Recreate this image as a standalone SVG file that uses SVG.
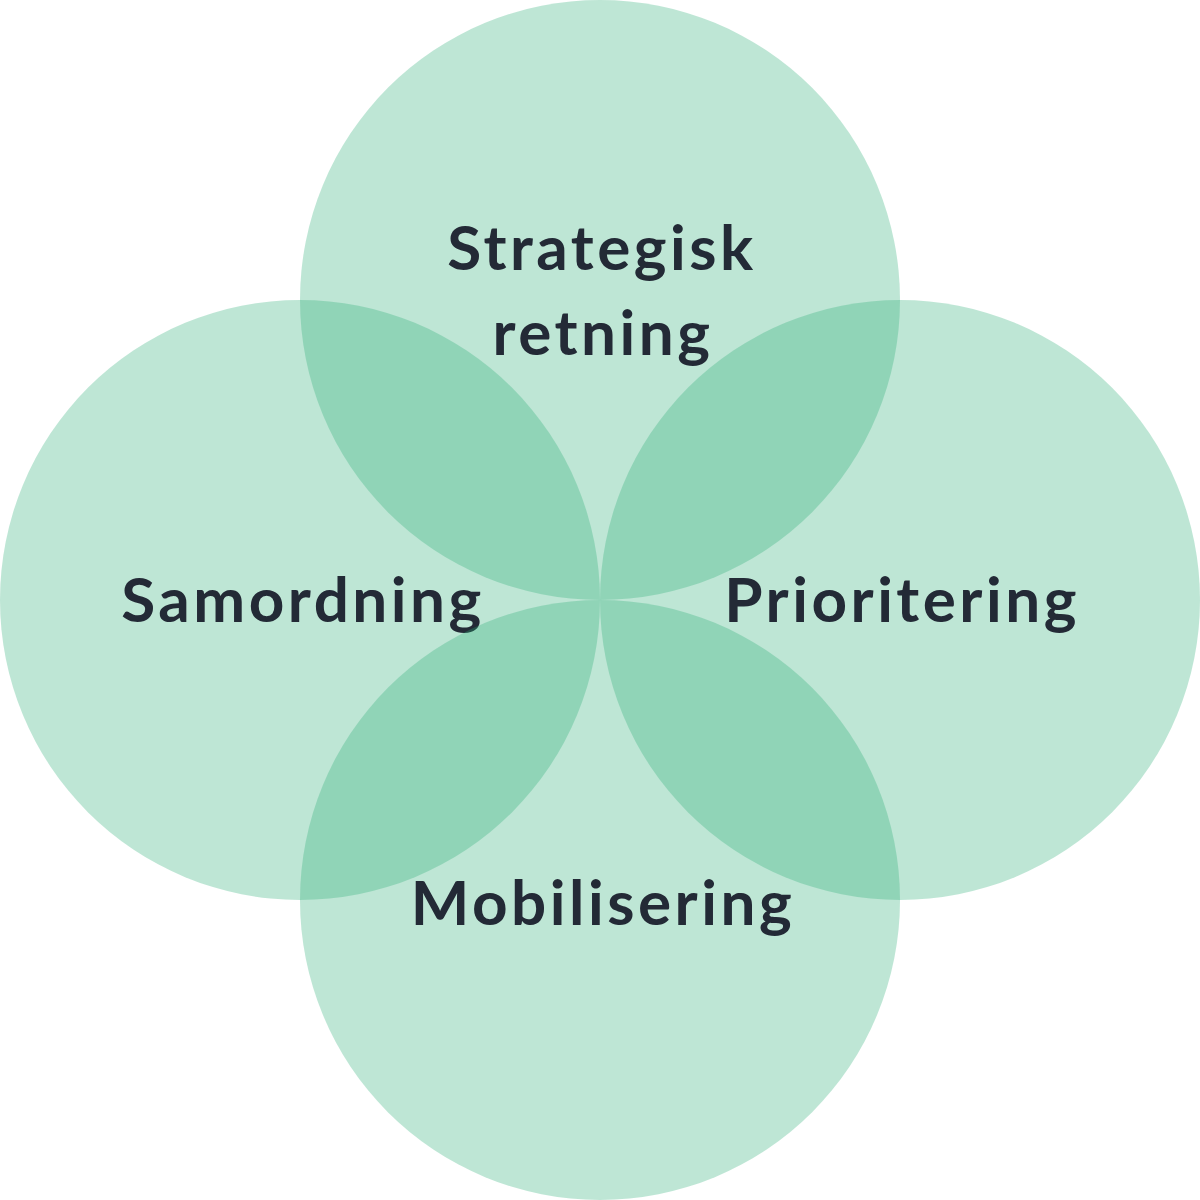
<svg xmlns="http://www.w3.org/2000/svg" width="1200" height="1200" viewBox="0 0 1200 1200">
<style>
.c{fill:#28ab75;fill-opacity:0.3}
.t{font-family:Lato,"Noto Sans",sans-serif;font-weight:bold;font-size:62px;letter-spacing:3.5px;fill:#232a36;text-anchor:middle}
</style>
<rect width="1200" height="1200" fill="#ffffff"/>
<g id="top"><circle class="c" cx="600" cy="300" r="300"/><text class="t" x="602" y="270">Strategisk</text><text class="t" x="603" y="355">retning</text></g>
<g id="left"><circle class="c" cx="300" cy="600" r="300"/><text class="t" x="303" y="622">Samordning</text></g>
<g id="right"><circle class="c" cx="900" cy="600" r="300"/><text class="t" x="902" y="622">Prioritering</text></g>
<g id="bottom"><circle class="c" cx="600" cy="900" r="300"/><text class="t" x="603" y="925">Mobilisering</text></g>
<g id="connectors"/>
</svg>
